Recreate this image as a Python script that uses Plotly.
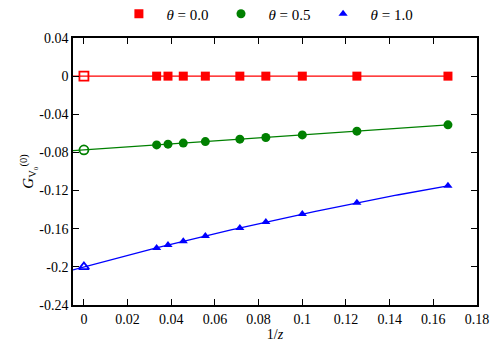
import numpy as np
import plotly.graph_objects as go

# 1/z for z = 30, 26, 22, 18, 14, 12, 10, 8, 6
inv_z = [0.0333, 0.0385, 0.0455, 0.0556, 0.0714, 0.0833, 0.1, 0.125, 0.1667]

g_theta00 = [0.0, 0.0, 0.0, 0.0, 0.0, 0.0, 0.0, 0.0, 0.0]
g_theta05 = [-0.0721, -0.0713, -0.0702, -0.0686, -0.0661, -0.0643, -0.0616, -0.0577, -0.0511]
g_theta10 = [-0.1801, -0.1772, -0.1732, -0.1676, -0.1592, -0.1530, -0.1447, -0.1329, -0.1150]

# extrapolated values at 1/z = 0
extrap_x = [0.0]
extrap_00 = [0.0]
extrap_05 = [-0.0774]
extrap_10 = [-0.2000]

ytick_vals = [0.04, 0, -0.04, -0.08, -0.12, -0.16, -0.2, -0.24]
ytick_text = ["0.04", "0", "-0.04", "-0.08", "-0.12", "-0.16", "-0.2", "-0.24"]
xtick_vals = [0, 0.02, 0.04, 0.06, 0.08, 0.1, 0.12, 0.14, 0.16, 0.18]
xtick_text = ["0", "0.02", "0.04", "0.06", "0.08", "0.1", "0.12", "0.14", "0.16", "0.18"]

FONT = "Liberation Serif"

series = [
    ("<i>θ</i> = 0.0", g_theta00, extrap_00, "#ff0000", "square", 1),
    ("<i>θ</i> = 0.5", g_theta05, extrap_05, "#008000", "circle", 2),
    ("<i>θ</i> = 1.0", g_theta10, extrap_10, "#0000ff", "triangle-up", 2),
]

fig = go.Figure()

x_fit = np.linspace(-0.005, max(inv_z), 100)

for nome, valores, extrap, cor, simbolo, grau in series:
    xs = extrap_x + inv_z
    ys = extrap + valores
    coef = np.polyfit(xs, ys, grau)
    fig.add_trace(go.Scatter(
        x=x_fit, y=np.polyval(coef, x_fit), mode="lines",
        line=dict(color=cor, width=1.3), showlegend=False, hoverinfo="skip"
    ))
    fig.add_trace(go.Scatter(
        x=extrap_x, y=extrap, mode="markers",
        marker=dict(symbol=simbolo + "-open", size=9, color=cor, line=dict(width=1.8, color=cor)),
        showlegend=False, cliponaxis=False
    ))
    fig.add_trace(go.Scatter(
        x=inv_z, y=valores, mode="markers", name=nome,
        marker=dict(symbol=simbolo, size=9 if simbolo != "triangle-up" else 8, color=cor),
        cliponaxis=False
    ))

eixo = dict(
    showline=True, linecolor="black", linewidth=1.5, mirror="ticks",
    ticks="inside", ticklen=6, tickcolor="black", tickwidth=1,
    showgrid=False, zeroline=False,
    tickfont=dict(family=FONT, size=14, color="black"),
)

fig.update_xaxes(
    **eixo, range=[-0.005, 0.18], tickvals=xtick_vals, ticktext=xtick_text,
    title=dict(text="1/<i>z</i>", font=dict(family=FONT, size=14, color="black"), standoff=4)
)
fig.update_yaxes(
    **eixo, range=[-0.24, 0.04], tickvals=ytick_vals, ticktext=ytick_text,
    title=dict(text="<i>G</i><sub>V₀</sub><sup>(0)</sup>", font=dict(family=FONT, size=15, color="black"), standoff=2)
)

# the page body adds an 8px offset, so margins are shifted to compensate
fig.update_layout(
    width=499, height=348,
    paper_bgcolor="white", plot_bgcolor="white",
    margin=dict(l=65, r=30, t=30, b=51, autoexpand=False),
    font=dict(family=FONT, size=14, color="black"),
    legend=dict(
        orientation="h", x=0.475, xanchor="center", y=1.09, yanchor="middle",
        font=dict(family=FONT, size=15), itemwidth=45, bgcolor="rgba(0,0,0,0)"
    ),
)

fig.write_html("out.html")
